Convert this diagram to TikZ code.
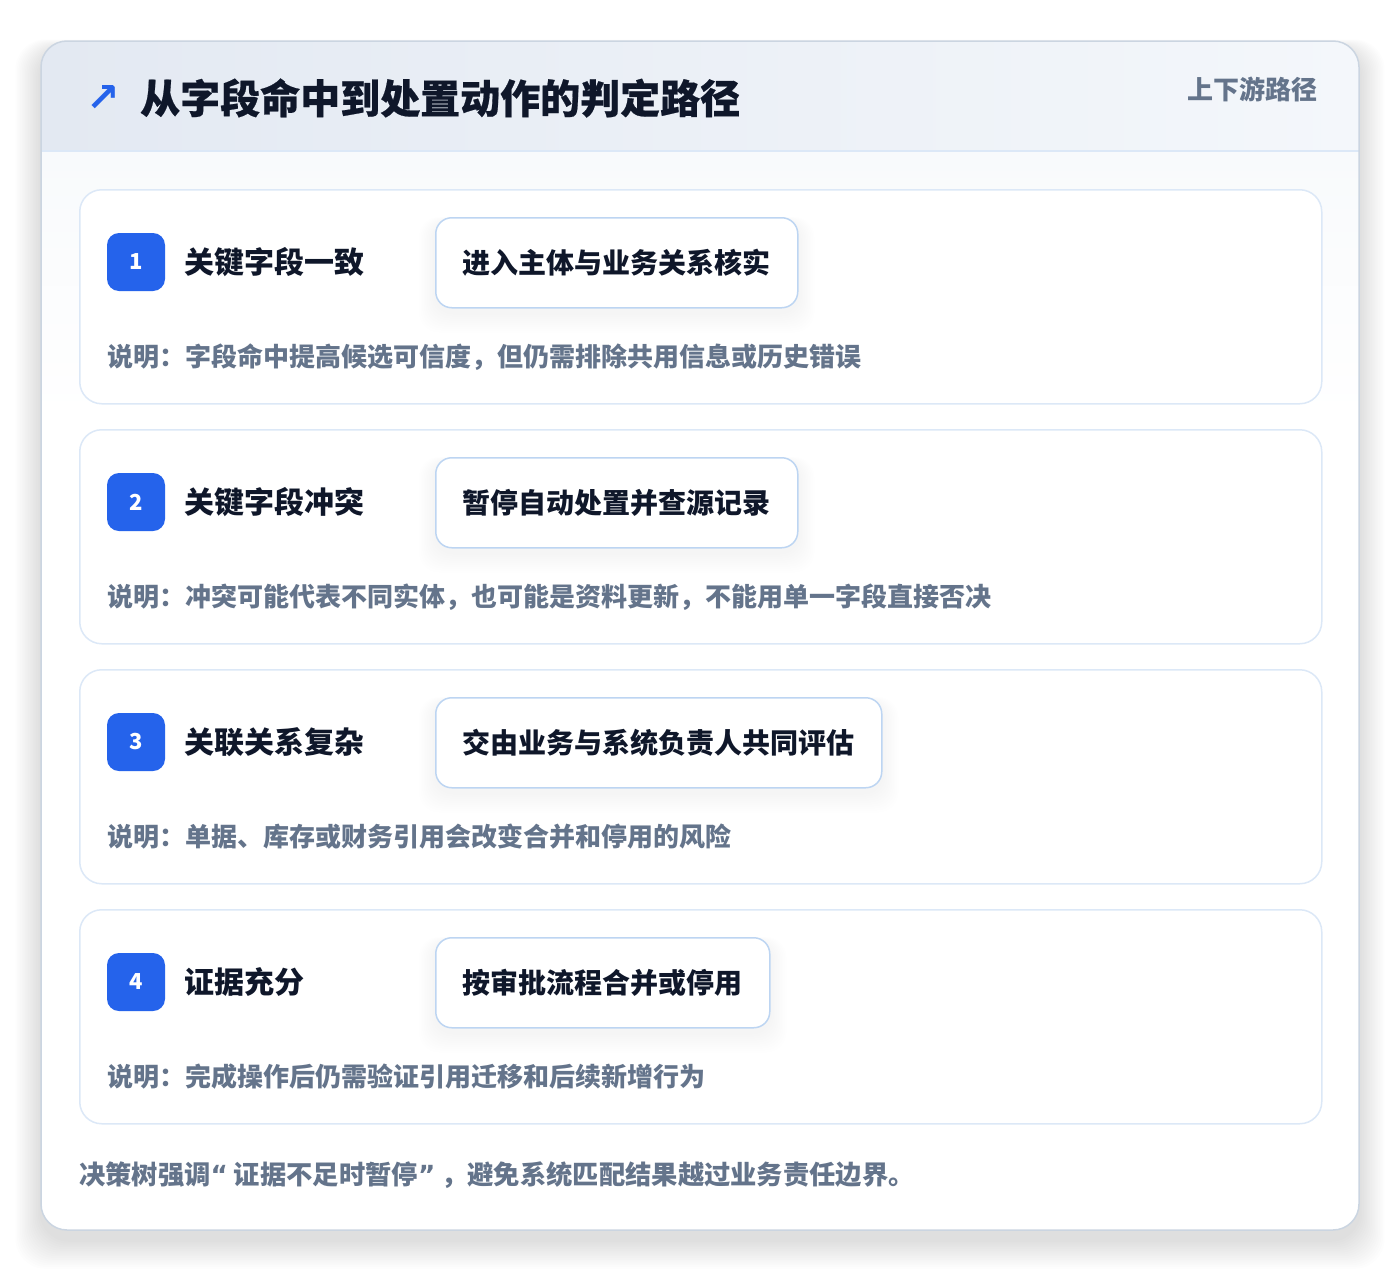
\documentclass[tikz,border=0pt]{standalone}
\usepackage{fontspec}
\setmainfont{Noto Sans CJK SC}
\newfontfamily\titlefont{Noto Sans CJK SC}[BoldFeatures={FakeBold=0.5}]
\newfontfamily\sym{DejaVu Sans}
\definecolor{ink}{HTML}{0F172A}
\definecolor{muted}{HTML}{64748B}
\definecolor{brand}{HTML}{2563EB}
\definecolor{cardline}{HTML}{DCE8F7}
\definecolor{boxline}{HTML}{BDD5F2}
\definecolor{outline}{HTML}{CBD5E1}
\definecolor{headL}{HTML}{E3E9F2}
\definecolor{headR}{HTML}{F4F7FB}
\definecolor{bodytop}{HTML}{F8FAFC}
\pgfdeclarelayer{bg}
\pgfdeclarelayer{mid}
\pgfsetlayers{bg,mid,main}
\tikzset{
  card/.style={draw=cardline, line width=1.5pt, fill=white, rounded corners=22pt},
  badge/.style={fill=brand, rounded corners=12pt, minimum width=58pt, minimum height=58pt, inner sep=0pt, text=white, font=\bfseries\fontsize{22}{24}\selectfont},
  lab/.style={anchor=west, inner sep=0pt, text=ink, font=\bfseries\fontsize{30}{36}\selectfont},
  act/.style={draw=boxline, line width=1.5pt, fill=white, rounded corners=16pt, minimum height=90pt, inner xsep=27pt, inner ysep=0pt, anchor=north west, text=ink, font=\bfseries\fontsize{28}{34}\selectfont},
  desc/.style={anchor=west, inner sep=0pt, text=muted, font=\bfseries\fontsize{26}{32}\selectfont},
}
\newcommand{\myLQ}{{\sym\bfseries “}\kern6pt}
\newcommand{\myRQ}{{\sym\bfseries ”}\kern6pt}
\begin{document}
\begin{tikzpicture}[x=1pt,y=-1pt]
\useasboundingbox (0,0) rectangle (1400,1274);
\begin{pgfonlayer}{bg}
\fill[white] (0,0) rectangle (1400,1274);
\foreach \k in {1,...,16}{
  \fill[black, opacity=0.007, rounded corners=30pt] (41-\k*1.6,41+8-\k*0.6) rectangle (1359+\k*1.6,1230+10+\k*1.8);
}
\fill[white, rounded corners=26pt] (41,41) rectangle (1359,1230);
\begin{scope}
  \clip[rounded corners=26pt] (41,41) rectangle (1359,1230);
  \shade[left color=headL, right color=headR] (41,41) rectangle (1359,151);
  \shade[top color=bodytop, bottom color=white] (41,151) rectangle (1359,420);
  \draw[cardline, line width=1.5pt] (41,151) -- (1359,151);
\end{scope}
\draw[outline, line width=1.5pt, rounded corners=26pt] (41,41) rectangle (1359,1230);
\end{pgfonlayer}
% header
\node[anchor=center, inner sep=0pt, text=brand, font=\sym\bfseries\fontsize{40}{44}\selectfont] (icon) at (103,99) {↗};
\node[anchor=west, inner sep=0pt, text=ink, font=\titlefont\bfseries\fontsize{40}{46}\selectfont] (title) at (140,98) {从字段命中到处置动作的判定路径};
\node[anchor=east, inner sep=0pt, text=muted, font=\bfseries\fontsize{26}{30}\selectfont] (side) at (1318,89) {上下游路径};
% steps
\foreach \i/\y/\lab/\act/\desc in {
  1/189/关键字段一致/进入主体与业务关系核实/说明：字段命中提高候选可信度，但仍需排除共用信息或历史错误,
  2/429/关键字段冲突/暂停自动处置并查源记录/说明：冲突可能代表不同实体，也可能是资料更新，不能用单一字段直接否决,
  3/669/关联关系复杂/交由业务与系统负责人共同评估/说明：单据、库存或财务引用会改变合并和停用的风险,
  4/909/证据充分/按审批流程合并或停用/说明：完成操作后仍需验证引用迁移和后续新增行为}{
  \begin{pgfonlayer}{bg}
    \node[card, minimum width=1242pt, minimum height=214pt, anchor=north west, inner sep=0pt] (card\i) at (79,\y) {};
  \end{pgfonlayer}
  \node[badge] (badge\i) at (136,\y+73) {\i};
  \node[lab] (lab\i) at (184,\y+73) {\lab};
  \node[act] (act\i) at (435,\y+28) {\act};
  \begin{pgfonlayer}{mid}
    \foreach \k in {1,...,10}{
      \fill[black, opacity=0.005, rounded corners=20pt] ([xshift=-\k*1.6pt, yshift=-4pt+\k*0.4pt]act\i.north west) rectangle ([xshift=\k*1.6pt, yshift=-4pt-\k*2pt]act\i.south east);
    }
  \end{pgfonlayer}
  \node[desc] (desc\i) at (107,\y+168) {\desc};
}
\node[anchor=west, inner sep=0pt, text=muted, font=\bfseries\fontsize{26.3}{32}\selectfont] (foot) at (79,1175) {决策树强调\myLQ 证据不足时暂停\myRQ ，避免系统匹配结果越过业务责任边界。};
\end{tikzpicture}
\end{document}
